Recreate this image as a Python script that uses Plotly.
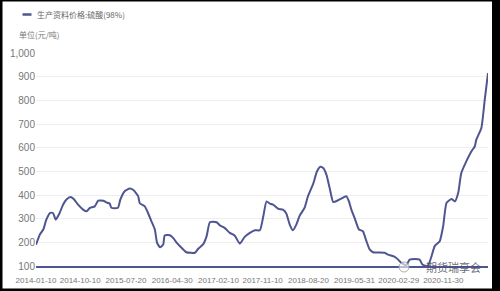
import plotly.graph_objects as go

# ---- data ----
dates = [
    "2014-01-10", "2014-02-03", "2014-02-24", "2014-03-15", "2014-04-08", "2014-04-25",
    "2014-05-12", "2014-06-05", "2014-06-26", "2014-07-17", "2014-08-11", "2014-08-31",
    "2014-09-27", "2014-10-28", "2014-11-19", "2014-12-09", "2015-01-08", "2015-01-29",
    "2015-03-02", "2015-03-20", "2015-04-10", "2015-04-21", "2015-05-31", "2015-06-15",
    "2015-07-12", "2015-08-12", "2015-09-05", "2015-10-03", "2015-10-13", "2015-11-13",
    "2015-12-03", "2015-12-24", "2016-01-14", "2016-01-28", "2016-02-15", "2016-03-06",
    "2016-03-15", "2016-04-16", "2016-05-06", "2016-05-26", "2016-06-27", "2016-07-27",
    "2016-09-18", "2016-10-08", "2016-11-07", "2016-11-29", "2016-12-19", "2017-01-30",
    "2017-02-20", "2017-03-20", "2017-04-21", "2017-05-21", "2017-06-22", "2017-07-22",
    "2017-08-23", "2017-09-23", "2017-10-24", "2017-11-14", "2017-12-04", "2017-12-24",
    "2018-01-14", "2018-02-15", "2018-03-15", "2018-04-05", "2018-04-26", "2018-05-16",
    "2018-06-06", "2018-06-27", "2018-07-27", "2018-08-17", "2018-09-18", "2018-10-12",
    "2018-11-02", "2018-11-19", "2018-12-09", "2018-12-30", "2019-01-20", "2019-02-20",
    "2019-03-20", "2019-04-11", "2019-04-27", "2019-05-12", "2019-06-01", "2019-06-28",
    "2019-07-22", "2019-08-13", "2019-09-02", "2019-09-23", "2019-12-04", "2019-12-24",
    "2020-02-04", "2020-02-25", "2020-03-16", "2020-04-16", "2020-05-06", "2020-06-06",
    "2020-07-07", "2020-07-24", "2020-08-26", "2020-09-18", "2020-10-08", "2020-11-08",
    "2020-11-29", "2020-12-20", "2021-01-20", "2021-02-10", "2021-03-02", "2021-03-21",
    "2021-04-21", "2021-05-22", "2021-06-12", "2021-06-22", "2021-07-23", "2021-08-13",
    "2021-09-02",
]
prices = [
    190, 233, 254, 296, 324, 324,
    296, 324, 359, 381, 392, 383,
    359, 338, 331, 346, 352, 376,
    376, 369, 364, 346, 346, 381,
    416, 427, 420, 395, 365, 352,
    324, 289, 254, 198, 179, 191,
    229, 230, 219, 200, 177, 158,
    156, 173, 191, 226, 285, 285,
    271, 261, 240, 229, 194, 223,
    240, 251, 251, 310, 373, 364,
    359, 341, 338, 322, 275, 251,
    275, 313, 346, 395, 447, 500,
    519, 514, 486, 426, 370, 378,
    388, 395, 373, 338, 303, 254,
    247, 205, 170, 158, 156, 148,
    139, 127, 113, 104, 127, 130,
    127, 106, 100, 141, 184, 205,
    268, 367, 383, 373, 409, 493,
    542, 584, 605, 634, 683, 803,
    915,
]
x_tick_dates = ["2014-01-10", "2014-10-10", "2015-07-20", "2016-04-30", "2017-02-10",
                "2017-11-10", "2018-08-20", "2019-05-31", "2020-02-29", "2020-11-30"]
y_ticks = [100, 200, 300, 400, 500, 600, 700, 800, 900, 1000]
series_name = "生产资料价格:硫酸(98%)"
unit_label = "单位(元/吨)"
watermark = "期货瑞享会"

LINE = "#4f5590"
FONT = "Liberation Sans Narrow, Liberation Sans, Arial, Noto Sans CJK SC, sans-serif"
CJK = "Noto Sans CJK SC, sans-serif"

fig = go.Figure()
fig.add_trace(go.Scatter(
    x=dates, y=prices, mode="lines", name=series_name,
    line=dict(color=LINE, width=2, shape="spline", smoothing=0.5),
    showlegend=False,
))

W, H = 500, 291
ml, mr, mt, mb = 36, 12, 53, 25
pw, ph = W - ml - mr, H - mt - mb


def px_x(p):
    return (p - ml) / pw


def px_y(p):
    return (H - mb - p) / ph


shapes = [
    # legend swatch
    dict(type="line", xref="paper", yref="paper",
         x0=px_x(22.5), x1=px_x(31.5), y0=px_y(14.5), y1=px_y(14.5),
         line=dict(color=LINE, width=2.5)),
    # screenshot frame
    dict(type="rect", xref="paper", yref="paper", x0=px_x(0), x1=px_x(2.5),
         y0=px_y(291), y1=px_y(0), fillcolor="black", line=dict(width=0)),
    dict(type="rect", xref="paper", yref="paper", x0=px_x(492), x1=px_x(500),
         y0=px_y(291), y1=px_y(0), fillcolor="black", line=dict(width=0)),
    dict(type="rect", xref="paper", yref="paper", x0=px_x(0), x1=px_x(500),
         y0=px_y(1.5), y1=px_y(0), fillcolor="black", line=dict(width=0)),
    dict(type="rect", xref="paper", yref="paper", x0=px_x(0), x1=px_x(500),
         y0=px_y(291), y1=px_y(288.5), fillcolor="black", line=dict(width=0)),
    # watermark icon
    dict(type="circle", xref="paper", yref="paper",
         x0=px_x(399), x1=px_x(409), y0=px_y(272), y1=px_y(262),
         line=dict(color="rgba(150,150,160,0.8)", width=1), fillcolor="rgba(255,255,255,0.6)"),
]

annotations = [
    dict(text=series_name, xref="paper", yref="paper", x=px_x(35), y=px_y(14.5),
         xanchor="left", yanchor="middle", showarrow=False,
         font=dict(family=CJK, size=8, color="#666666")),
    dict(text=unit_label, xref="paper", yref="paper", x=px_x(17), y=px_y(35),
         xanchor="left", yanchor="middle", showarrow=False,
         font=dict(family=CJK, size=8, color="#777777")),
    dict(text=watermark, xref="paper", yref="paper", x=px_x(453), y=px_y(266.5),
         xanchor="center", yanchor="middle", showarrow=False,
         font=dict(family=CJK, size=11, color="rgba(80,80,100,0.85)")),
]

fig.update_layout(
    width=W, height=H,
    margin=dict(l=ml, r=mr, t=mt, b=mb, pad=0, autoexpand=False),
    paper_bgcolor="white", plot_bgcolor="white",
    font=dict(family=FONT, size=10, color="#777777"),
    shapes=shapes, annotations=annotations,
    xaxis=dict(
        type="date", range=[dates[0], dates[-1]],
        tickmode="array", tickvals=x_tick_dates, ticktext=x_tick_dates,
        showgrid=False, zeroline=False, showline=True, linecolor=LINE, linewidth=2,
        ticks="", tickangle=0, ticklabelstandoff=5, automargin=False,
        tickfont=dict(family=FONT, size=8, color="#777777"),
        fixedrange=True,
    ),
    yaxis=dict(
        range=[100, 1000], tickmode="array", tickvals=y_ticks, tickformat=",d",
        showgrid=True, gridcolor="#eeeeee", gridwidth=1, zeroline=False,
        showline=False, ticks="", automargin=False,
        tickfont=dict(family=FONT, size=10, color="#777777"),
        fixedrange=True,
    ),
)

fig.write_html("out.html")
